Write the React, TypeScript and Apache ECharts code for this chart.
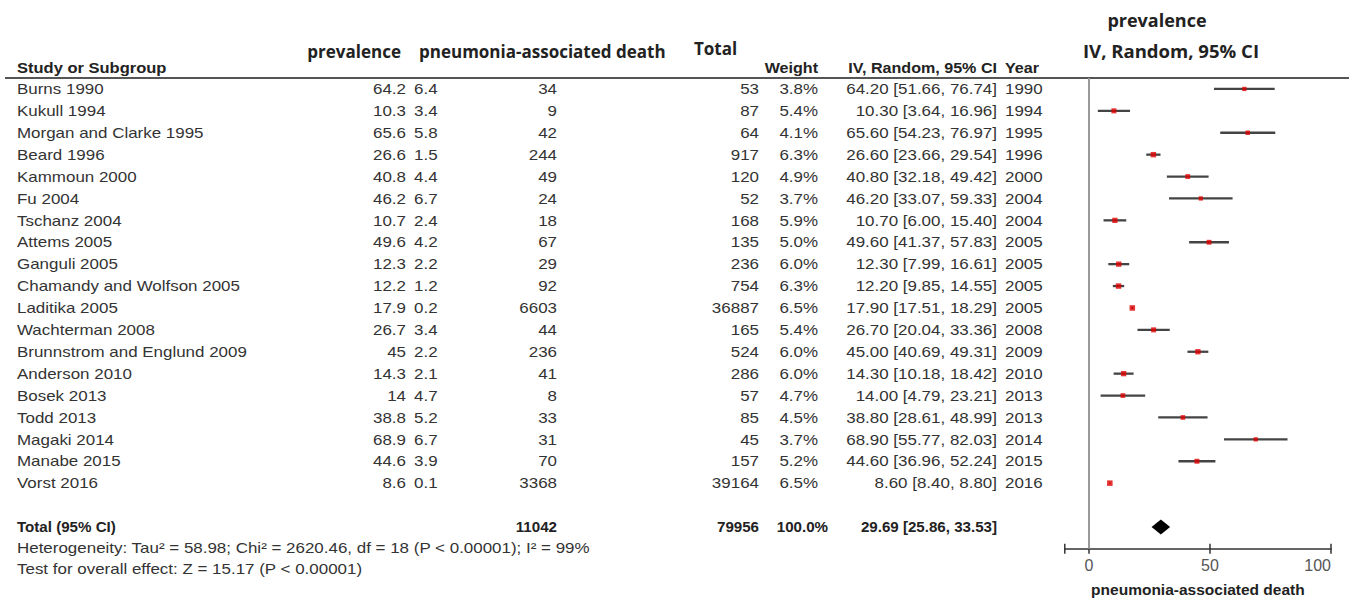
import React, { useEffect, useRef } from "react";
import * as echarts from "echarts";

// ---------- data ----------
const studies = [
  "Burns 1990", "Kukull 1994", "Morgan and Clarke 1995", "Beard 1996", "Kammoun 2000",
  "Fu 2004", "Tschanz 2004", "Attems 2005", "Ganguli 2005", "Chamandy and Wolfson 2005",
  "Laditika 2005", "Wachterman 2008", "Brunnstrom and Englund 2009", "Anderson 2010",
  "Bosek 2013", "Todd 2013", "Magaki 2014", "Manabe 2015", "Vorst 2016",
];
const prevalence = [64.2, 10.3, 65.6, 26.6, 40.8, 46.2, 10.7, 49.6, 12.3, 12.2, 17.9, 26.7, 45, 14.3, 14, 38.8, 68.9, 44.6, 8.6];
const seValues = [6.4, 3.4, 5.8, 1.5, 4.4, 6.7, 2.4, 4.2, 2.2, 1.2, 0.2, 3.4, 2.2, 2.1, 4.7, 5.2, 6.7, 3.9, 0.1];
const deaths = [34, 9, 42, 244, 49, 24, 18, 67, 29, 92, 6603, 44, 236, 41, 8, 33, 31, 70, 3368];
const totals = [53, 87, 64, 917, 120, 52, 168, 135, 236, 754, 36887, 165, 524, 286, 57, 85, 45, 157, 39164];
const weights = [3.8, 5.4, 4.1, 6.3, 4.9, 3.7, 5.9, 5.0, 6.0, 6.3, 6.5, 5.4, 6.0, 6.0, 4.7, 4.5, 3.7, 5.2, 6.5];
const ciLow = [51.66, 3.64, 54.23, 23.66, 32.18, 33.07, 6.0, 41.37, 7.99, 9.85, 17.51, 20.04, 40.69, 10.18, 4.79, 28.61, 55.77, 36.96, 8.4];
const ciHigh = [76.74, 16.96, 76.97, 29.54, 49.42, 59.33, 15.4, 57.83, 16.61, 14.55, 18.29, 33.36, 49.31, 18.42, 23.21, 48.99, 82.03, 52.24, 8.8];
const years = [1990, 1994, 1995, 1996, 2000, 2004, 2004, 2005, 2005, 2005, 2005, 2008, 2009, 2010, 2013, 2013, 2014, 2015, 2016];

const totalLabel = "Total (95% CI)";
const totalDeaths = 11042;
const totalN = 79956;
const totalWeight = 100.0;
const totalEst = 29.69;
const totalLow = 25.86;
const totalHigh = 33.53;
const totalRow = 20;

const footnotes = [
  "Heterogeneity: Tau² = 58.98; Chi² = 2620.46, df = 18 (P < 0.00001); I² = 99%",
  "Test for overall effect: Z = 15.17 (P < 0.00001)",
];
const footRows = [20.95, 21.9];

const xTickLabels = [0, 50, 100];
const xTickMarks = [-10, 0, 50, 100];

// ---------- layout ----------
const W = 1349;
const H = 599;
const TOP = 78;
const ROW_H = 21.9;
const FOREST_MIN = -10;
const FOREST_MAX = 100;
const PX_PER_UNIT = 2.42;
const ZERO_X = 1089;

const COL = {
  name: 17,
  prev: 406,
  se: 414,
  death: 557,
  total: 759,
  weight: 818,
  weightTotal: 828,
  ci: 997,
  year: 1005,
};

const FAM = "'Liberation Sans', Arial, sans-serif";
const F_BODY = `15px ${FAM}`;
const F_BOLD = `bold 14px ${FAM}`;
const F_TOTAL = `bold 14px ${FAM}`;
const F_HEAD = "bold 17px 'Open Sans', sans-serif";
const F_FHEAD = "bold 18px 'Open Sans', sans-serif";
const SX = 1.13;
const TXT = "#333";

function txt(x: number, y: number, text: string, align: string, font: string, fill = TXT, sx = SX) {
  return {
    type: "text",
    x,
    y,
    scaleX: sx,
    silent: true,
    style: {
      text,
      x: 0,
      y: 0,
      font,
      fill,
      align,
      verticalAlign: "middle",
      textAlign: align,
      textVerticalAlign: "middle",
    },
  };
}

export default function App() {
  const ref = useRef<HTMLDivElement>(null);

  useEffect(() => {
    document.body.style.margin = "0";
    if (!ref.current) return;
    const chart = echarts.init(ref.current, undefined, { renderer: "svg" });

    const forestLeft = ZERO_X + FOREST_MIN * PX_PER_UNIT;
    const forestWidth = (FOREST_MAX - FOREST_MIN) * PX_PER_UNIT;

    const option: any = {
      animation: false,
      backgroundColor: "#fff",
      grid: [
        {
          left: forestLeft,
          width: forestWidth,
          top: TOP,
          height: ROW_H * 21.5,
          containLabel: false,
          outerBoundsMode: "none",
        },
        {
          left: 0,
          width: W,
          top: TOP,
          height: ROW_H * 23.5,
          containLabel: false,
          outerBoundsMode: "none",
        },
      ],
      xAxis: [
        {
          gridIndex: 0,
          type: "value",
          min: FOREST_MIN,
          max: FOREST_MAX,
          splitLine: { show: false },
          axisLine: { show: true, onZero: false, lineStyle: { color: "#333", width: 1.5 } },
          axisTick: { show: false },
          axisLabel: {
            show: true,
            customValues: xTickLabels,
            alignMaxLabel: "right",
            color: "#555",
            fontSize: 16,
            fontFamily: FAM,
            margin: 9,
          },
          name: "pneumonia-associated death",
          nameLocation: "middle",
          nameGap: 33,
          nameTextStyle: { color: "#222", fontSize: 15.5, fontWeight: "bold", fontFamily: FAM },
        },
        { gridIndex: 1, type: "value", min: 0, max: W, show: false },
      ],
      yAxis: [
        { gridIndex: 0, type: "value", min: -0.5, max: 21, inverse: true, show: false },
        { gridIndex: 1, type: "value", min: -0.5, max: 23, inverse: true, show: false },
      ],
      graphic: [
        { type: "line", silent: true, shape: { x1: 5, y1: TOP, x2: W, y2: TOP }, style: { stroke: "#555", lineWidth: 2 } },
        txt(COL.name, 68, "Study or Subgroup", "left", F_BOLD, "#222", 1.18),
        txt(401, 51, "prevalence", "right", F_HEAD, "#222", 1),
        txt(419, 51, "pneumonia-associated death", "left", F_HEAD, "#222", 1),
        txt(694, 48, "Total", "left", F_HEAD, "#222", 1),
        txt(COL.weight, 68, "Weight", "right", F_BOLD, "#222", 1.15),
        txt(COL.ci, 68, "IV, Random, 95% CI", "right", F_BOLD, "#222", 1.15),
        txt(COL.year, 68, "Year", "left", F_BOLD, "#222", 1.15),
        txt(1157, 20, "prevalence", "center", F_FHEAD, "#222", 1),
        txt(1171, 51, "IV, Random, 95% CI", "center", F_FHEAD, "#222", 1.03),
      ],
      series: [
        // CI whiskers
        {
          type: "custom",
          xAxisIndex: 0,
          yAxisIndex: 0,
          clip: false,
          silent: true,
          data: studies.map((_, i) => [ciLow[i], ciHigh[i], i]),
          renderItem: (params: any, api: any) => {
            const a = api.coord([api.value(0), api.value(2)]);
            const b = api.coord([api.value(1), api.value(2)]);
            return {
              type: "line",
              shape: { x1: a[0], y1: a[1], x2: b[0], y2: b[1] },
              style: { stroke: "#444", lineWidth: 2.3 },
            };
          },
        },
        // point estimates
        {
          type: "scatter",
          xAxisIndex: 0,
          yAxisIndex: 0,
          silent: true,
          symbol: "rect",
          data: studies.map((_, i) => [prevalence[i], i, weights[i]]),
          symbolSize: (v: number[]) => 2.6 + v[2] * 0.45,
          itemStyle: { color: "#e00000" },
          markLine: {
            silent: true,
            symbol: "none",
            label: { show: false },
            lineStyle: { color: "#999", width: 2, type: "solid" },
            data: [{ xAxis: 0 }],
          },
          z: 3,
        },
        // total diamond
        {
          type: "custom",
          xAxisIndex: 0,
          yAxisIndex: 0,
          clip: false,
          silent: true,
          data: [[totalEst, totalLow, totalHigh, totalRow]],
          renderItem: (params: any, api: any) => {
            const r = api.value(3);
            const c = api.coord([api.value(0), r]);
            const l = api.coord([api.value(1), r]);
            const h = api.coord([api.value(2), r]);
            return {
              type: "polygon",
              shape: { points: [[l[0], c[1]], [c[0], c[1] - 7.5], [h[0], c[1]], [c[0], c[1] + 7.5]] },
              style: { fill: "#000" },
            };
          },
        },
        // axis tick marks (crossing the axis line)
        {
          type: "custom",
          xAxisIndex: 0,
          yAxisIndex: 0,
          clip: false,
          silent: true,
          data: xTickMarks.map((v) => [v, 21]),
          renderItem: (params: any, api: any) => {
            const p = api.coord([api.value(0), api.value(1)]);
            return {
              type: "line",
              shape: { x1: p[0], y1: p[1] - 5, x2: p[0], y2: p[1] + 5 },
              style: { stroke: "#333", lineWidth: 1.5 },
            };
          },
        },
        // table rows
        {
          type: "custom",
          xAxisIndex: 1,
          yAxisIndex: 1,
          clip: false,
          silent: true,
          data: studies.map((_, i) => [0, i]),
          renderItem: (params: any, api: any) => {
            const i = params.dataIndex;
            const row = api.value(1);
            const y = api.coord([0, row])[1];
            const X = (v: number) => api.coord([v, row])[0];
            return {
              type: "group",
              children: [
                txt(X(COL.name), y, studies[i], "left", F_BODY),
                txt(X(COL.prev), y, String(prevalence[i]), "right", F_BODY),
                txt(X(COL.se), y, String(seValues[i]), "left", F_BODY),
                txt(X(COL.death), y, String(deaths[i]), "right", F_BODY),
                txt(X(COL.total), y, String(totals[i]), "right", F_BODY),
                txt(X(COL.weight), y, weights[i].toFixed(1) + "%", "right", F_BODY),
                txt(
                  X(COL.ci),
                  y,
                  `${prevalence[i].toFixed(2)} [${ciLow[i].toFixed(2)}, ${ciHigh[i].toFixed(2)}]`,
                  "right",
                  F_BODY
                ),
                txt(X(COL.year), y, String(years[i]), "left", F_BODY),
              ],
            };
          },
        },
        // total row
        {
          type: "custom",
          xAxisIndex: 1,
          yAxisIndex: 1,
          clip: false,
          silent: true,
          data: [[0, totalRow]],
          renderItem: (params: any, api: any) => {
            const row = api.value(1);
            const y = api.coord([0, row])[1];
            const X = (v: number) => api.coord([v, row])[0];
            return {
              type: "group",
              children: [
                txt(X(COL.name), y, totalLabel, "left", F_TOTAL, "#222", 1.08),
                txt(X(COL.death), y, String(totalDeaths), "right", F_TOTAL, "#222", 1.08),
                txt(X(COL.total), y, String(totalN), "right", F_TOTAL, "#222", 1.08),
                txt(X(COL.weightTotal), y, totalWeight.toFixed(1) + "%", "right", F_TOTAL, "#222", 1.08),
                txt(
                  X(COL.ci),
                  y,
                  `${totalEst.toFixed(2)} [${totalLow.toFixed(2)}, ${totalHigh.toFixed(2)}]`,
                  "right",
                  F_TOTAL,
                  "#222",
                  1.08
                ),
              ],
            };
          },
        },
        // footnotes
        {
          type: "custom",
          xAxisIndex: 1,
          yAxisIndex: 1,
          clip: false,
          silent: true,
          data: footRows.map((r) => [0, r]),
          renderItem: (params: any, api: any) => {
            const row = api.value(1);
            const y = api.coord([0, row])[1];
            return txt(api.coord([COL.name, row])[0], y, footnotes[params.dataIndex], "left", F_BODY);
          },
        },
      ],
    };

    chart.setOption(option);
    return () => chart.dispose();
  }, []);

  return <div ref={ref} style={{ width: W, height: H }} />;
}
